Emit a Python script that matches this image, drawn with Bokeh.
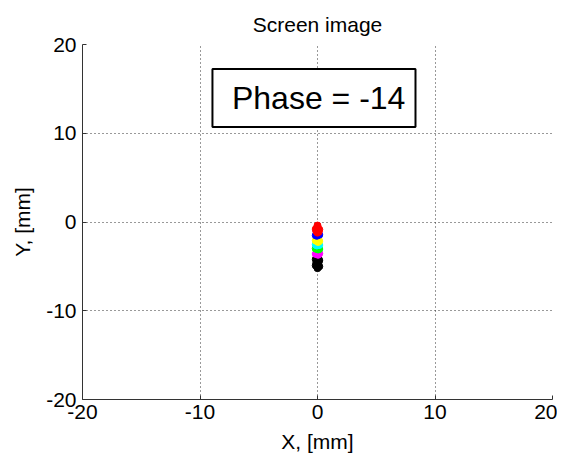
from bokeh.plotting import figure
from bokeh.models import Label, BoxAnnotation, Range1d, FixedTicker
from bokeh.embed import file_html
from bokeh.resources import INLINE

# ---- data (mm) ----
black_x = [0.0, -0.15, 0.15, -0.1, 0.1, 0.0, -0.15, 0.15, 0.0, -0.05, 0.05, 0.0]
black_y = [-4.0, -4.2, -4.3, -4.6, -4.5, -4.8, -4.9, -5.0, -5.2, -4.4, -4.7, -5.0]
magenta_x = [0.0, -0.15, 0.15, 0.05]
magenta_y = [-3.5, -3.6, -3.55, -3.7]
green_x = [0.0, -0.15, 0.15, 0.05]
green_y = [-2.9, -3.0, -3.05, -3.1]
cyan_x = [0.0, -0.15, 0.15, -0.05]
cyan_y = [-2.45, -2.55, -2.6, -2.65]
yellow_x = [0.0, -0.15, 0.15, 0.05]
yellow_y = [-2.0, -2.1, -2.15, -2.25]
blue_x = [0.0, -0.15, 0.15, -0.05]
blue_y = [-1.4, -1.5, -1.45, -1.55]
red_x = [0.0, -0.15, 0.15, -0.1, 0.1, 0.0, 0.0]
red_y = [-0.6, -0.8, -0.85, -1.05, -1.1, -1.2, -0.4]

groups = [
    (black_x, black_y, "black"),
    (magenta_x, magenta_y, "#ff00ff"),
    (green_x, green_y, "#00ff00"),
    (cyan_x, cyan_y, "#00ffff"),
    (yellow_x, yellow_y, "#ffff00"),
    (blue_x, blue_y, "#0000ff"),
    (red_x, red_y, "#ff0000"),
]

ticks = [-20, -10, 0, 10, 20]
tick_labels = ["-20", "-10", "0", "10", "20"]
title = "Screen image"
xlabel = "X, [mm]"
ylabel = "Y, [mm]"
phase_text = "Phase = -14"

FONT = "Liberation Sans"

p = figure(width=557, height=457, output_backend="svg", toolbar_location=None,
           x_range=Range1d(-20, 20), y_range=Range1d(-20, 20),
           min_border_left=82, min_border_right=5, min_border_top=44, min_border_bottom=58)
p.title.text = title
p.title.align = "center"
p.title.text_font = FONT
p.title.text_font_size = "21px"
p.title.text_font_style = "normal"
p.title.text_color = "black"
p.title.standoff = 18
p.outline_line_color = None
p.background_fill_color = "white"

overrides = {t: s for t, s in zip(ticks, tick_labels)}
for ax in (p.xaxis, p.yaxis):
    ax.ticker = FixedTicker(ticks=ticks)
    ax.major_label_overrides = overrides
    ax.major_label_text_font = FONT
    ax.major_label_text_font_size = "21px"
    ax.major_label_text_color = "black"
    ax.axis_label_text_font = FONT
    ax.axis_label_text_font_size = "21px"
    ax.axis_label_text_font_style = "normal"
    ax.axis_label_text_color = "black"
    ax.axis_line_color = "#333333"
    ax.major_tick_line_color = "#333333"
    ax.major_tick_in = 4
    ax.major_tick_out = 0
    ax.minor_tick_line_color = None

p.xaxis.major_label_standoff = 5
p.yaxis.major_label_standoff = 6
p.xaxis.axis_label = xlabel
p.yaxis.axis_label = ylabel
p.xaxis.axis_label_standoff = 8
p.yaxis.axis_label_standoff = 9

for g in (p.xgrid, p.ygrid):
    g.ticker = FixedTicker(ticks=ticks)
    g.grid_line_color = "#333333"
    g.grid_line_dash = "1 3"
    g.grid_line_width = 1

for gx, gy, c in groups:
    p.scatter(x=gx, y=gy, size=7, marker="circle", fill_color=c, line_color=c)

box = BoxAnnotation(left=-8.94, right=8.34, bottom=10.7, top=17.24,
                    fill_color="white", fill_alpha=1.0, line_color="black",
                    line_alpha=1.0, line_width=2)
p.add_layout(box)
p.add_layout(Label(x=0.1, y=14.0, text=phase_text, text_align="center", text_baseline="middle",
                   text_font=FONT, text_font_size="32px", text_color="black"))

open("out.html", "w").write(file_html(p, INLINE))
